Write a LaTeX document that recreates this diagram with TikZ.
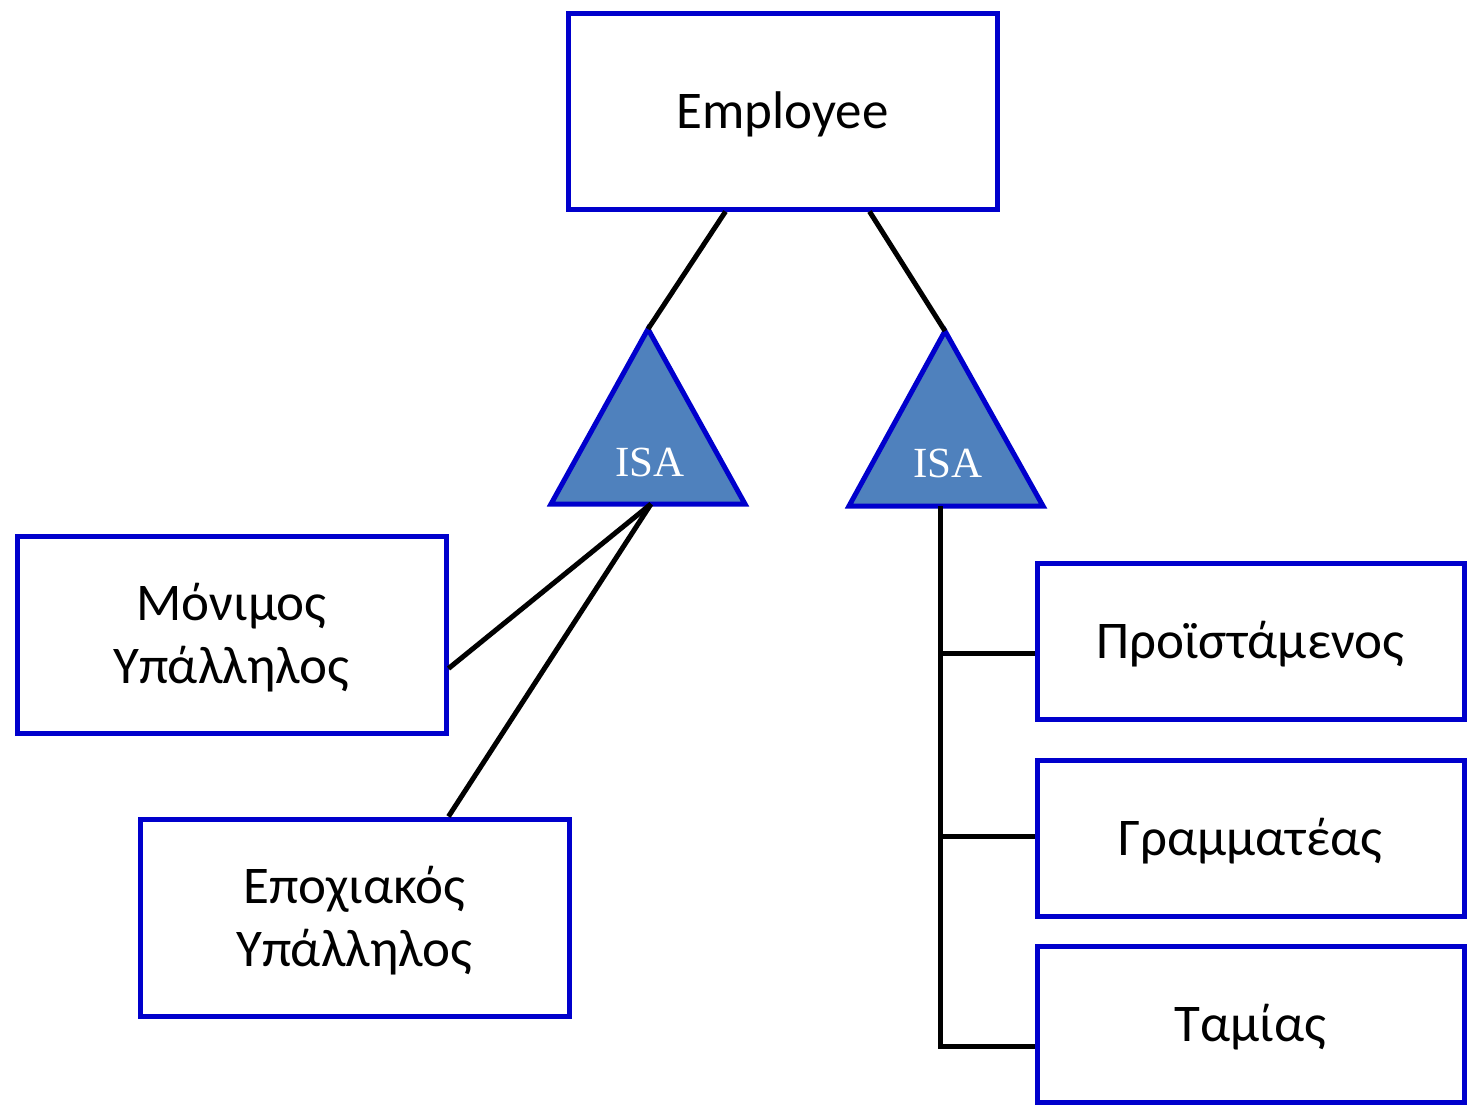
\documentclass[tikz,border=0pt]{standalone}
\usepackage{fontspec}
\setmainfont{Carlito}
\newfontfamily\isafont{Liberation Serif}
\usetikzlibrary{calc}
\definecolor{entblue}{RGB}{0,0,204}
\definecolor{isafill}{RGB}{79,129,189}
\begin{document}
\begin{tikzpicture}[x=1pt,y=-1pt,
  entity/.style={draw=entblue,line width=5pt,fill=white,inner sep=0pt,
    minimum width=429pt,minimum height=197pt,align=center,
    font=\fontsize{53}{63}\selectfont},
  subent/.style={entity,minimum width=427pt,minimum height=156pt},
  isatri/.style={draw=entblue,fill=isafill,line width=5pt,line join=miter},
  isatext/.style={text=white,font=\isafont\fontsize{43}{50}\selectfont,inner sep=0pt},
  link/.style={line width=5pt,black},
  lbl/.style={inner sep=0pt,align=center,font=\fontsize{53}{63}\selectfont}]
\useasboundingbox (0,0) rectangle (1468,1104);

% entities
\node[entity,minimum height=196pt] (emp) at (782.5,111) {};
\node[lbl] at ($(emp.center)+(0,3)$) {Employee};
\node[entity] (mon) at (231.5,634.5) {};
\node[lbl] at ($(mon.center)+(0,3)$) {Μόνιμος\\Υπάλληλος};
\node[entity] (epo) at (354.5,917.5) {};
\node[lbl] at ($(epo.center)+(0,3)$) {Εποχιακός\\Υπάλληλος};
\node[subent] (pro) at (1250.5,641) {};
\node[lbl] at ($(pro.center)+(0,3)$) {Προϊστάμενος};
\node[subent] (gra) at (1250.5,838) {};
\node[lbl] at ($(gra.center)+(0,3)$) {Γραμματέας};
\node[subent] (tam) at (1250.5,1024) {};
\node[lbl] at ($(tam.center)+(0,3)$) {Ταμίας};

% ISA triangles
\coordinate (isaAtop) at (648,329);
\coordinate (isaAbot) at (651,504);
\draw[isatri] (isaAtop) -- (745,504) -- (551,504) -- cycle;
\node[isatext] (isaA) at (650,462) {ISA};

\coordinate (isaBtop) at (945,331);
\coordinate (isaBbot) at (940,506);
\draw[isatri] (isaBtop) -- (1043,506) -- (849,506) -- cycle;
\node[isatext] (isaB) at (948,463) {ISA};

% connectors from Employee
\draw[link] ($(emp.south west)+(160,0)$) -- (isaAtop);
\draw[link] ($(emp.south west)+(304,0)$) -- (isaBtop);

% first hierarchy
\draw[link] (isaAbot) -- ($(mon.north east)+(0,135)$);
\draw[link] (isaAbot) -- ($(epo.north west)+(311,0)$);

% second hierarchy
\coordinate (busA) at (940,653);
\coordinate (busB) at (940,836);
\coordinate (busC) at (940,1046);
\draw[link,line join=miter] (isaBbot) -- (busC) -- (tam.west |- busC);
\draw[link] (busA) -- (pro.west |- busA);
\draw[link] (busB) -- (gra.west |- busB);
\end{tikzpicture}
\end{document}
